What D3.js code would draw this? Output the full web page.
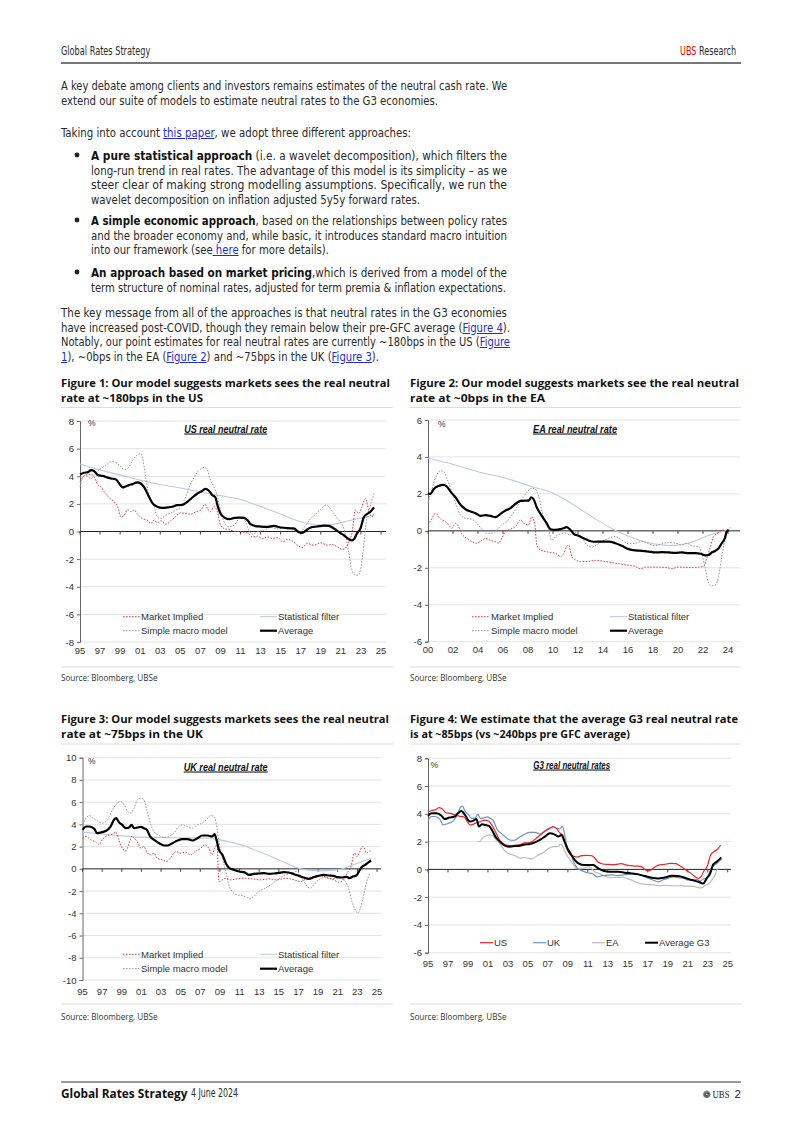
<!DOCTYPE html>
<html><head><meta charset="utf-8">
<script src="https://cdn.jsdelivr.net/npm/d3@7"></script>
<style>
body{margin:0;background:#fff;}
#page{position:relative;width:802px;height:1134px;overflow:hidden;background:#fff;}
.ln{position:absolute;white-space:nowrap;font-family:"Liberation Sans Narrow","DejaVu Sans Condensed","Open Sans",sans-serif;font-size:12.5px;color:#2a2a2a;transform-origin:0 50%;line-height:13px;}
.ln a{color:#1f2bd8;text-decoration:underline;}
.ln b{color:#111;}
.tt{position:absolute;white-space:nowrap;font-family:"Open Sans","Noto Sans",sans-serif;font-weight:700;font-size:11px;color:#111;transform-origin:0 50%;line-height:13px;}
svg{position:absolute;left:0;top:0;}
</style></head><body><div id="page"><svg id="svg" width="802" height="1134"></svg></div>
<script>
// ---------------- DATA ----------------
const yTicks1 = [-8,-6,-4,-2,0,2,4,6,8];
const yTicks2 = [-6,-4,-2,0,2,4,6];
const yTicks3 = [-10,-8,-6,-4,-2,0,2,4,6,8,10];
const yTicks4 = [-6,-4,-2,0,2,4,6,8];
const xTicksA = [1995,1997,1999,2001,2003,2005,2007,2009,2011,2013,2015,2017,2019,2021,2023,2025];
const xTicksB = [2000,2002,2004,2006,2008,2010,2012,2014,2016,2018,2020,2022,2024];

const legendLabels = ["Market Implied","Statistical filter","Simple macro model","Average"];
const g3Labels = ["US","UK","EA","Average G3"];

// US (Figure 1)
const usAvg = [[1995.0,4.13],[1995.4,4.25],[1995.8,4.3],[1996.1,4.45],[1996.4,4.37],[1996.8,4.08],[1997.25,4.03],[1997.75,3.9],[1998.1,3.84],[1998.6,3.77],[1998.9,3.48],[1999.25,3.19],[1999.6,3.28],[1999.9,3.36],[2000.2,3.43],[2000.7,3.55],[2001.05,3.48],[2001.4,3.19],[2001.8,2.63],[2002.2,2.08],[2002.7,1.79],[2003.2,1.71],[2003.7,1.74],[2004.2,1.79],[2004.7,1.91],[2005.2,1.93],[2005.7,2.15],[2006.2,2.46],[2006.7,2.75],[2007.2,2.95],[2007.5,3.09],[2007.85,2.95],[2008.2,2.63],[2008.5,2.46],[2008.7,1.91],[2009.0,1.3],[2009.4,1.01],[2009.9,0.89],[2010.4,0.99],[2010.85,1.01],[2011.35,0.99],[2011.7,0.82],[2012.0,0.53],[2012.5,0.39],[2013.0,0.36],[2013.7,0.34],[2014.3,0.41],[2015.0,0.29],[2015.65,0.24],[2016.3,0.22],[2016.8,-0.05],[2017.15,-0.1],[2017.5,0.05],[2018.0,0.29],[2018.65,0.36],[2019.3,0.43],[2019.8,0.41],[2020.3,0.22],[2020.8,-0.05],[2021.3,-0.27],[2021.8,-0.56],[2022.1,-0.65],[2022.35,-0.51],[2022.6,-0.14],[2022.95,0.22],[2023.3,1.06],[2023.6,1.26],[2023.95,1.43],[2024.3,1.74]];
const usMkt = [[1995.0,3.6],[1995.6,4.1],[1996.1,4.13],[1996.4,3.96],[1996.8,3.36],[1997.1,3.24],[1997.4,2.87],[1997.9,2.46],[1998.4,2.15],[1998.75,1.79],[1999.1,1.06],[1999.4,1.18],[1999.75,1.59],[2000.1,1.43],[2000.4,1.55],[2000.7,1.3],[2001.2,0.94],[2001.7,0.82],[2002.05,0.58],[2002.4,0.82],[2002.7,0.63],[2003.05,0.77],[2003.55,0.53],[2004.05,0.77],[2004.55,1.11],[2005.05,1.35],[2005.55,1.3],[2006.05,1.26],[2006.55,1.43],[2007.05,1.55],[2007.45,1.98],[2007.7,1.67],[2008.0,1.43],[2008.35,1.79],[2008.7,1.43],[2009.0,0.46],[2009.35,0.22],[2009.85,0.14],[2010.35,0.02],[2011.0,-0.02],[2011.7,-0.1],[2012.2,-0.39],[2012.7,-0.34],[2013.2,-0.51],[2013.7,-0.39],[2014.2,-0.51],[2014.7,-0.43],[2015.2,-0.75],[2015.65,-0.58],[2016.15,-0.68],[2016.65,-0.99],[2017.15,-1.16],[2017.65,-0.87],[2018.3,-0.99],[2019.0,-0.82],[2019.65,-0.99],[2020.15,-0.94],[2020.65,-1.11],[2021.15,-1.3],[2021.5,-1.16],[2021.8,-0.75],[2022.1,-0.14],[2022.45,1.55],[2022.8,1.3],[2023.1,1.79],[2023.45,2.39],[2023.8,1.43],[2024.1,1.06],[2024.3,1.3]];
const usStat = [[1995.0,4.88],[1997.0,4.45],[1999.0,4.1],[2001.0,3.72],[2003.0,3.4],[2005.0,3.15],[2007.0,2.87],[2009.0,2.6],[2011.0,2.32],[2013.0,1.8],[2015.0,1.26],[2017.0,0.7],[2019.0,0.46],[2020.5,0.55],[2022.0,0.82],[2023.6,1.06],[2024.3,1.18]];
const usMacro = [[1995.0,3.24],[1995.4,4.08],[1995.75,3.96],[1996.1,3.84],[1996.4,4.08],[1996.9,4.45],[1997.6,4.81],[1998.1,5.05],[1998.4,5.05],[1998.9,4.81],[1999.4,4.49],[1999.75,4.57],[2000.25,5.17],[2000.7,5.53],[2001.0,5.65],[2001.2,5.41],[2001.55,3.96],[2001.9,2.51],[2002.4,1.79],[2002.7,1.06],[2003.05,0.94],[2003.55,1.18],[2004.05,1.35],[2004.55,1.55],[2005.05,1.79],[2005.4,2.27],[2005.9,3.24],[2006.4,3.96],[2006.9,4.45],[2007.4,4.64],[2007.7,4.45],[2008.0,3.72],[2008.35,3.24],[2008.7,2.51],[2009.0,1.55],[2009.35,0.7],[2009.85,0.34],[2010.35,0.46],[2010.85,0.94],[2011.2,1.06],[2011.5,0.7],[2011.85,0.05],[2012.2,-0.19],[2012.7,-0.02],[2013.35,0.1],[2014.0,0.29],[2014.7,0.19],[2015.35,0.29],[2016.0,0.19],[2016.5,0.05],[2017.0,-0.02],[2017.5,0.46],[2018.0,0.94],[2018.5,1.26],[2019.0,1.59],[2019.5,1.91],[2019.8,1.79],[2020.3,1.3],[2020.8,0.82],[2021.15,0.46],[2021.5,-0.39],[2021.8,-1.59],[2022.1,-2.8],[2022.45,-3.16],[2022.7,-3.16],[2022.95,-2.8],[2023.3,-0.87],[2023.55,0.82],[2023.9,1.79],[2024.3,2.75]];

// EA (Figure 2)
const eaAvg = [[2000.0,2.04],[2000.2,2.0],[2000.45,2.25],[2000.85,2.43],[2001.25,2.49],[2001.5,2.4],[2001.9,2.04],[2002.2,1.82],[2002.6,1.41],[2003.0,1.17],[2003.4,1.05],[2003.8,0.95],[2004.2,0.81],[2004.6,0.85],[2005.0,0.81],[2005.4,0.74],[2005.8,0.92],[2006.2,1.1],[2006.6,1.23],[2007.0,1.46],[2007.4,1.62],[2007.8,1.64],[2008.05,1.64],[2008.25,1.82],[2008.45,1.71],[2008.7,1.28],[2009.1,0.81],[2009.5,0.41],[2009.8,0.09],[2010.2,0.05],[2010.6,0.09],[2010.85,0.14],[2011.1,0.2],[2011.4,0.05],[2011.65,-0.16],[2012.05,-0.27],[2012.45,-0.4],[2012.85,-0.52],[2013.25,-0.59],[2013.9,-0.58],[2014.45,-0.58],[2015.0,-0.67],[2015.5,-0.81],[2016.05,-0.99],[2016.6,-1.06],[2017.1,-1.08],[2017.65,-1.12],[2018.2,-1.17],[2018.7,-1.15],[2019.25,-1.17],[2019.8,-1.19],[2020.3,-1.17],[2020.85,-1.21],[2021.4,-1.21],[2021.8,-1.24],[2022.2,-1.33],[2022.45,-1.31],[2022.7,-1.17],[2023.0,-1.08],[2023.25,-0.94],[2023.5,-0.67],[2023.75,-0.4],[2023.9,-0.04],[2024.05,0.05]];
const eaMkt = [[2000.0,0.32],[2000.25,0.59],[2000.6,0.95],[2000.85,0.77],[2001.1,0.59],[2001.4,0.5],[2001.65,0.32],[2001.9,0.14],[2002.2,0.41],[2002.45,0.23],[2002.7,-0.16],[2003.1,-0.4],[2003.5,-0.58],[2003.9,-0.67],[2004.3,-0.52],[2004.6,-0.4],[2005.0,-0.52],[2005.35,-0.58],[2005.65,-0.67],[2005.9,-0.4],[2006.2,-0.04],[2006.6,0.09],[2007.0,0.23],[2007.4,0.59],[2007.65,0.41],[2008.05,0.32],[2008.3,0.77],[2008.55,0.32],[2008.7,-0.76],[2009.0,-1.03],[2009.4,-1.12],[2009.8,-1.17],[2010.2,-1.21],[2010.6,-1.39],[2010.85,-1.24],[2011.1,-0.85],[2011.25,-0.76],[2011.5,-1.39],[2011.8,-1.57],[2012.2,-1.66],[2012.7,-1.66],[2013.4,-1.6],[2014.2,-1.66],[2015.0,-1.75],[2015.8,-1.84],[2016.6,-1.93],[2017.0,-2.05],[2017.4,-1.96],[2018.2,-1.96],[2019.0,-1.98],[2019.5,-2.04],[2020.05,-1.96],[2020.85,-1.98],[2021.65,-1.96],[2022.05,-1.93],[2022.3,-1.48],[2022.6,-0.85],[2022.85,-0.31],[2023.25,-0.09],[2023.65,0.05],[2023.9,-0.09],[2024.05,-0.04]];
const eaStat = [[2000.0,3.93],[2002.0,3.6],[2004.0,3.2],[2006.2,2.85],[2008.45,2.36],[2010.0,2.05],[2011.0,1.68],[2013.1,0.77],[2015.0,0.02],[2016.85,-0.49],[2018.2,-0.72],[2019.5,-0.8],[2020.85,-0.67],[2022.2,-0.31],[2023.5,-0.04],[2024.05,0.05]];
const eaMacro = [[2000.0,1.5],[2000.3,2.22],[2000.7,3.03],[2001.0,3.26],[2001.25,3.21],[2001.5,2.85],[2001.9,2.13],[2002.3,1.32],[2002.6,0.86],[2003.0,0.68],[2003.5,0.63],[2003.9,0.41],[2004.3,0.09],[2004.7,-0.13],[2005.1,-0.13],[2005.5,0.05],[2005.9,0.32],[2006.3,0.5],[2006.7,0.86],[2007.1,1.28],[2007.5,1.71],[2007.9,2.07],[2008.3,2.31],[2008.6,2.25],[2008.85,1.86],[2009.1,1.14],[2009.4,0.41],[2009.65,0.05],[2009.9,-0.52],[2010.2,-0.31],[2010.6,-0.16],[2011.0,-0.13],[2011.4,-0.22],[2011.65,-0.04],[2011.9,-0.13],[2012.3,-0.34],[2012.7,-0.76],[2013.1,-0.88],[2013.5,-0.76],[2013.9,-0.58],[2014.45,-0.4],[2015.0,-0.31],[2015.5,-0.49],[2016.05,-0.7],[2016.6,-0.67],[2017.1,-0.58],[2017.65,-0.7],[2018.2,-0.81],[2018.7,-0.7],[2019.25,-0.63],[2019.8,-0.67],[2020.3,-0.76],[2020.7,-0.67],[2021.1,-0.81],[2021.65,-0.85],[2021.9,-1.21],[2022.2,-2.11],[2022.45,-2.83],[2022.65,-2.97],[2023.0,-2.92],[2023.25,-2.47],[2023.5,-1.39],[2023.75,-0.49],[2023.9,-0.04],[2024.2,0.18]];

// UK (Figure 3)
const ukAvg = [[1995.0,3.51],[1995.35,3.81],[1995.7,3.81],[1996.2,3.6],[1996.5,3.21],[1997.0,3.3],[1997.55,3.51],[1997.9,3.87],[1998.2,4.41],[1998.45,4.56],[1998.7,4.2],[1999.05,3.96],[1999.4,3.66],[1999.75,3.72],[2000.0,3.96],[2000.25,3.66],[2000.6,3.72],[2000.95,3.78],[2001.25,3.66],[2001.55,3.51],[2001.9,2.91],[2002.3,2.61],[2002.8,2.31],[2003.3,2.1],[2003.65,2.1],[2004.15,2.31],[2004.65,2.52],[2005.15,2.67],[2005.7,2.67],[2006.2,2.55],[2006.7,2.76],[2007.2,3.0],[2007.7,3.0],[2008.2,2.91],[2008.45,3.12],[2008.65,2.61],[2008.9,1.71],[2009.25,1.26],[2009.6,0.51],[2009.9,0.12],[2010.4,-0.09],[2010.95,-0.24],[2011.45,-0.3],[2011.95,-0.54],[2012.45,-0.45],[2012.95,-0.42],[2013.5,-0.39],[2014.0,-0.45],[2014.5,-0.42],[2015.0,-0.36],[2015.5,-0.3],[2016.0,-0.33],[2016.55,-0.48],[2017.05,-0.63],[2017.55,-0.78],[2018.05,-0.9],[2018.55,-0.75],[2019.05,-0.63],[2019.6,-0.54],[2020.1,-0.6],[2020.6,-0.63],[2020.95,-0.75],[2021.45,-0.78],[2021.9,-0.72],[2022.2,-0.84],[2022.55,-0.69],[2022.9,-0.6],[2023.25,-0.09],[2023.5,0.21],[2023.8,0.36],[2024.15,0.6],[2024.4,0.75]];
const ukMkt = [[1995.0,2.76],[1995.35,2.91],[1995.85,2.61],[1996.35,2.4],[1996.7,2.16],[1997.0,2.61],[1997.55,3.0],[1998.05,3.12],[1998.4,3.3],[1998.7,2.61],[1999.05,1.86],[1999.4,1.62],[1999.75,2.31],[2000.0,2.91],[2000.3,2.76],[2000.65,2.31],[2000.95,1.86],[2001.25,2.01],[2001.55,1.5],[2001.9,1.26],[2002.3,1.41],[2002.6,0.96],[2003.15,0.81],[2003.55,0.66],[2003.95,0.96],[2004.5,1.56],[2005.0,1.41],[2005.5,1.5],[2006.0,1.26],[2006.5,1.56],[2007.05,1.86],[2007.45,2.16],[2007.9,1.8],[2008.2,1.26],[2008.45,1.86],[2008.7,2.16],[2008.9,-1.14],[2009.25,-0.99],[2009.6,-0.84],[2010.1,-0.99],[2010.75,-0.9],[2011.45,-0.84],[2012.3,-0.9],[2013.15,-0.99],[2014.0,-0.9],[2014.8,-0.99],[2015.7,-0.84],[2016.55,-0.99],[2017.2,-1.14],[2017.9,-0.84],[2018.55,-0.69],[2019.25,-0.6],[2019.9,-0.78],[2020.6,-0.99],[2021.1,-1.2],[2021.6,-0.99],[2021.95,-0.39],[2022.35,0.21],[2022.7,1.41],[2022.95,1.11],[2023.25,1.56],[2023.5,2.01],[2023.7,1.86],[2023.95,1.41],[2024.25,1.62],[2024.4,1.56]];
const ukStat = [[1995.0,3.3],[1998.0,3.05],[2001.0,2.85],[2005.0,2.8],[2008.0,2.75],[2009.0,2.61],[2011.0,2.2],[2013.0,1.56],[2015.0,0.81],[2017.0,0.06],[2019.0,-0.18],[2021.0,-0.09],[2023.0,0.51],[2024.4,0.96]];
const ukMacro = [[1995.0,3.96],[1995.35,4.56],[1995.7,4.8],[1996.0,4.62],[1996.5,4.32],[1997.0,4.11],[1997.55,4.41],[1998.05,5.31],[1998.55,5.91],[1998.9,6.06],[1999.25,5.76],[1999.6,5.16],[1999.9,5.01],[2000.25,5.46],[2000.6,6.21],[2000.95,6.36],[2001.25,6.21],[2001.55,5.31],[2001.9,4.11],[2002.3,3.36],[2002.8,3.0],[2003.3,2.82],[2003.8,2.91],[2004.3,3.21],[2004.8,3.81],[2005.15,3.96],[2005.7,3.81],[2006.2,3.66],[2006.7,3.96],[2007.2,4.11],[2007.7,4.5],[2008.05,4.8],[2008.4,4.71],[2008.65,3.96],[2008.9,2.46],[2009.25,0.96],[2009.6,-0.24],[2009.9,-1.44],[2010.25,-2.04],[2010.75,-2.34],[2011.25,-2.4],[2011.8,-2.58],[2012.1,-2.7],[2012.45,-2.49],[2012.95,-2.04],[2013.5,-1.8],[2014.15,-1.44],[2014.85,-0.99],[2015.5,-0.6],[2016.2,-0.39],[2016.85,-0.24],[2017.35,-0.84],[2017.9,-1.59],[2018.2,-1.74],[2018.55,-1.44],[2019.05,-0.99],[2019.6,-0.78],[2020.25,-0.9],[2020.95,-0.84],[2021.6,-0.99],[2022.1,-1.74],[2022.45,-2.94],[2022.8,-3.69],[2023.05,-3.99],[2023.3,-3.54],[2023.65,-2.34],[2023.95,-1.14],[2024.3,-0.39]];

// G3 average (Figure 4)
const g3Avg = [[1995.0,3.85],[1995.35,4.04],[1995.85,4.04],[1996.35,3.87],[1996.65,3.63],[1997.15,3.73],[1997.65,3.8],[1998.0,4.04],[1998.35,4.21],[1998.7,3.92],[1999.2,3.44],[1999.5,3.49],[1999.85,3.63],[2000.1,3.08],[2000.4,3.25],[2000.75,3.2],[2001.1,3.13],[2001.4,2.84],[2001.75,2.36],[2002.2,2.0],[2002.7,1.71],[2003.2,1.63],[2003.7,1.68],[2004.2,1.71],[2004.7,1.8],[2005.2,1.83],[2005.7,1.95],[2006.2,2.12],[2006.7,2.36],[2007.2,2.6],[2007.65,2.52],[2008.05,2.36],[2008.35,2.48],[2008.65,2.04],[2008.95,1.51],[2009.35,1.03],[2009.7,0.67],[2010.05,0.43],[2010.55,0.31],[2011.05,0.31],[2011.55,0.31],[2012.05,0.07],[2012.55,-0.1],[2013.2,-0.17],[2014.05,-0.17],[2014.7,-0.24],[2015.4,-0.29],[2016.05,-0.36],[2016.7,-0.48],[2017.4,-0.6],[2018.05,-0.65],[2018.7,-0.58],[2019.4,-0.46],[2020.05,-0.48],[2020.7,-0.6],[2021.4,-0.77],[2022.05,-0.89],[2022.55,-1.01],[2022.9,-0.65],[2023.25,-0.29],[2023.55,0.36],[2023.9,0.55],[2024.25,0.79],[2024.35,0.87]];

// ---------------- PAGE TEXT ----------------
const page = d3.select("#page");
const svg = d3.select("#svg");

function fitLine(cls, x, yc, endX, html){
  const el = page.append("div").attr("class", cls).style("left", x+"px").style("top", (yc-6.5)+"px").html(html);
  const w = el.node().getBoundingClientRect().width;
  el.style("transform", `scaleX(${(endX-x)/w})`);
  return el;
}

const bodyLines = [
 [61,85,507,'A key debate among clients and investors remains estimates of the neutral cash rate. We'],
 [61,100,438,'extend our suite of models to estimate neutral rates to the G3 economies.'],
 [61,132,411,'Taking into account <a>this paper</a>, we adopt three different approaches:'],
 [91,155,507,'<b>A pure statistical approach</b> (i.e. a wavelet decomposition), which filters the'],
 [91,170,507,'long-run trend in real rates. The advantage of this model is its simplicity – as we'],
 [91,184,507,'steer clear of making strong modelling assumptions. Specifically, we run the'],
 [91,199,420,'wavelet decomposition on inflation adjusted 5y5y forward rates.'],
 [91,220,507,'<b>A simple economic approach</b>, based on the relationships between policy rates'],
 [91,235,507,'and the broader economy and, while basic, it introduces standard macro intuition'],
 [91,249,329,'into our framework (see<a> here</a> for more details).'],
 [91,272,507,'<b>An approach based on market pricing</b>,which is derived from a model of the'],
 [91,287,506,'term structure of nominal rates, adjusted for term premia &amp; inflation expectations.'],
 [61,312,507,'The key message from all of the approaches is that neutral rates in the G3 economies'],
 [61,327,510,'have increased post-COVID, though they remain below their pre-GFC average (<a>Figure 4</a>).'],
 [61,341,510,'Notably, our point estimates for real neutral rates are currently ~180bps in the US (<a>Figure </a>'],
 [61,356,379,'<a>1</a>), ~0bps in the EA (<a>Figure 2</a>) and ~75bps in the UK (<a>Figure 3</a>).']
];
bodyLines.forEach(d => fitLine("ln", d[0], d[1], d[2], d[3]));
[155,220,272].forEach(yc => svg.append("circle").attr("cx",77).attr("cy",yc).attr("r",2.4).attr("fill","#222"));

// header
fitLine("ln", 61, 51, 158, 'Global Rates Strategy').style("font-size","11.5px");
fitLine("ln", 680, 51, 741, '<span style="color:#e60000">UBS</span> Research').style("font-size","11.5px");
svg.append("line").attr("x1",61).attr("x2",741).attr("y1",63).attr("y2",63).attr("stroke","#777").attr("stroke-width",2);

// footer
svg.append("line").attr("x1",61).attr("x2",741).attr("y1",1082).attr("y2",1082).attr("stroke","#333").attr("stroke-width",1);
fitLine("tt", 61, 1093, 182, 'Global Rates Strategy').style("font-size","11.5px").style("font-weight","700");
fitLine("ln", 191, 1093, 242, '4 June 2024').style("font-size","11.5px");
svg.append("text").attr("x",711).attr("y",1097.5).attr("text-anchor","end").attr("font-family","DejaVu Sans").attr("font-size",10).attr("fill","#222").text("❁");
svg.append("text").attr("x",712.5).attr("y",1097.5).attr("font-family","Liberation Serif,serif").attr("font-size",11).attr("fill","#222").attr("textLength",17).attr("lengthAdjust","spacingAndGlyphs").text("UBS");
svg.append("text").attr("x",741).attr("y",1097.5).attr("text-anchor","end").attr("font-family","Liberation Sans Narrow,Liberation Sans,sans-serif").attr("font-size",11.5).attr("fill","#222").text("2");

// figure titles & sources
const titles = [
 [61,382,390,'Figure 1: Our model suggests markets sees the real neutral'],
 [61,397,203,'rate at ~180bps in the US'],
 [410,382,739,'Figure 2: Our model suggests markets see the real neutral'],
 [410,397,545,'rate at ~0bps in the EA'],
 [61,718.5,389,'Figure 3: Our model suggests markets sees the real neutral'],
 [61,733.5,203,'rate at ~75bps in the UK'],
 [410,718.5,738,'Figure 4: We estimate that the average G3 real neutral rate'],
 [410,733.5,630,'is at ~85bps (vs ~240bps pre GFC average)']
];
titles.forEach(d => fitLine("tt", d[0], d[1], d[2], d[3]));
[[61,393,407.5],[410,741,407.5],[61,393,744],[410,741,744],[61,393,667],[410,741,667],[61,393,1004],[410,741,1004]].forEach(d=>{
  svg.append("line").attr("x1",d[0]).attr("x2",d[1]).attr("y1",d[2]).attr("y2",d[2]).attr("stroke","#ddd").attr("stroke-width",1);
});
[[61,677],[410,677],[61,1016],[410,1016]].forEach(d=>{
  fitLine("ln", d[0], d[1], d[0]+123, 'Source: Bloomberg, UBSe').style("font-family","'Open Sans','Noto Sans',sans-serif").style("font-size","9.5px").style("color","#333");
});

// ---------------- CHARTS ----------------
const CF = "'Liberation Sans Narrow','Arial Narrow','Liberation Sans',Arial,sans-serif";
const styles = {
  mkt:{stroke:"#e0403f",w:1,dash:"1.6,1.4"},
  stat:{stroke:"#b9cbe6",w:1.1,dash:null},
  macro:{stroke:"#9a9a9a",w:1,dash:"1.6,1.4"},
  avg:{stroke:"#000",w:2.2,dash:null},
  us:{stroke:"#e8262b",w:1.2,dash:null},
  uk:{stroke:"#6d93c6",w:1.2,dash:null},
  ea:{stroke:"#bdbdbd",w:1.2,dash:null},
  g3:{stroke:"#000",w:2,dash:null}
};

function chart(c){
  const g = svg.append("g");
  const x = d3.scaleLinear().domain(c.xd).range(c.xr);
  const y = d3.scaleLinear().domain(c.yd).range(c.yr);
  const x0 = c.xr[0];
  g.selectAll(".grid").data(c.yt.filter(v=>v!==0)).join("line")
    .attr("x1",x0).attr("x2",c.gridEnd).attr("y1",d=>y(d)).attr("y2",d=>y(d))
    .attr("stroke","#dcdcdc").attr("stroke-width",0.8);
  const ya = d3.axisLeft(y).tickValues(c.yt).tickSize(3).tickPadding(3).tickFormat(d=>String(d));
  const yg = g.append("g").attr("transform",`translate(${x0},0)`).call(ya);
  yg.select(".domain").attr("stroke","#666");
  yg.selectAll(".tick line").attr("stroke","#666");
  yg.selectAll("text").attr("font-family",CF).attr("font-size",9.5).attr("fill","#333");
  g.append("line").attr("x1",x0).attr("x2",c.gridEnd).attr("y1",y(0)).attr("y2",y(0)).attr("stroke","#222").attr("stroke-width",1);
  g.selectAll(".xt").data(c.xt).join("line").attr("x1",d=>x(d)).attr("x2",d=>x(d)).attr("y1",y(0)).attr("y2",y(0)+3).attr("stroke","#444");
  g.selectAll(".xl").data(c.xt).join("text").attr("x",d=>x(d)).attr("y",c.labelY).attr("text-anchor","middle")
    .attr("font-family",CF).attr("font-size",9.5).attr("fill","#333").text(d=>String(d).slice(2));
  const line = d3.line().x(d=>x(d[0])).y(d=>y(d[1])).curve(d3.curveMonotoneX);
  c.series.forEach(s=>{
    const st = styles[s.k];
    g.append("path").datum(s.d).attr("d",line).attr("fill","none").attr("stroke",st.stroke)
      .attr("stroke-width",st.w).attr("stroke-dasharray",st.dash).attr("stroke-linejoin","round");
  });
  g.append("text").attr("x",c.title[1]).attr("y",c.title[2]).attr("text-anchor","middle")
    .attr("font-family",CF).attr("font-size",10.5).attr("font-weight",700).attr("font-style","italic")
    .attr("text-decoration","underline").attr("fill","#111").attr("textLength",c.title[3]).attr("lengthAdjust","spacingAndGlyphs").text(c.title[0]);
  g.append("text").attr("x",c.pct[0]).attr("y",c.pct[1]).attr("font-family",CF).attr("font-size",8.5).attr("fill","#333").text("%");
  c.legend.forEach(L=>{
    const st = styles[L.k];
    g.append("line").attr("x1",L.x1).attr("x2",L.x2).attr("y1",L.y).attr("y2",L.y).attr("stroke",st.stroke)
      .attr("stroke-width",st.w).attr("stroke-dasharray",st.dash);
    g.append("text").attr("x",L.x2+1).attr("y",L.y+3.3).attr("font-family",CF).attr("font-size",9.5).attr("fill","#333").text(L.t);
  });
}

chart({xd:[1995,2025],xr:[80,381],yd:[-8,8],yr:[642,421],yt:yTicks1,xt:xTicksA,gridEnd:386,labelY:654,
  title:["US real neutral rate",225.7,432.5,83],pct:[88,425.5],
  series:[{k:"stat",d:usStat},{k:"macro",d:usMacro},{k:"mkt",d:usMkt},{k:"avg",d:usAvg}],
  legend:[{k:"mkt",t:legendLabels[0],x1:123,x2:140,y:616.7},{k:"stat",t:legendLabels[1],x1:260,x2:277,y:616.7},
          {k:"macro",t:legendLabels[2],x1:123,x2:140,y:630.7},{k:"avg",t:legendLabels[3],x1:260,x2:277,y:630.7}]});

chart({xd:[2000,2025],xr:[428,740.5],yd:[-6,6],yr:[641.7,420],yt:yTicks2,xt:xTicksB,gridEnd:740,labelY:652.5,
  title:["EA real neutral rate",575,432.5,84],pct:[438,426.5],
  series:[{k:"stat",d:eaStat},{k:"macro",d:eaMacro},{k:"mkt",d:eaMkt},{k:"avg",d:eaAvg}],
  legend:[{k:"mkt",t:legendLabels[0],x1:472,x2:490,y:616.7},{k:"stat",t:legendLabels[1],x1:610,x2:627,y:616.7},
          {k:"macro",t:legendLabels[2],x1:472,x2:490,y:630.7},{k:"avg",t:legendLabels[3],x1:610,x2:627,y:630.7}]});

chart({xd:[1995,2025],xr:[82.5,377],yd:[-10,10],yr:[980,757.7],yt:yTicks3,xt:xTicksA,gridEnd:381,labelY:995,
  title:["UK real neutral rate",225.7,770.5,84],pct:[88,763.5],
  series:[{k:"stat",d:ukStat},{k:"macro",d:ukMacro},{k:"mkt",d:ukMkt},{k:"avg",d:ukAvg}],
  legend:[{k:"mkt",t:legendLabels[0],x1:123,x2:140,y:954.3},{k:"stat",t:legendLabels[1],x1:260,x2:277,y:954.3},
          {k:"macro",t:legendLabels[2],x1:123,x2:140,y:968.7},{k:"avg",t:legendLabels[3],x1:260,x2:277,y:968.7}]});

chart({xd:[1995,2025],xr:[428,727.7],yd:[-6,8],yr:[952.7,758.3],yt:yTicks4,xt:xTicksA,gridEnd:731,labelY:967,
  title:["G3 real neutral rates",571.7,768.5,77],pct:[430.5,767.5],
  series:[{k:"ea",d:eaAvg},{k:"uk",d:ukAvg},{k:"us",d:usAvg},{k:"g3",d:g3Avg}],
  legend:[{k:"us",t:g3Labels[0],x1:480,x2:493,y:942.7},{k:"uk",t:g3Labels[1],x1:533,x2:546,y:942.7},
          {k:"ea",t:g3Labels[2],x1:592,x2:605,y:942.7},{k:"g3",t:g3Labels[3],x1:645,x2:658,y:942.7}]});
</script>
</body></html>
